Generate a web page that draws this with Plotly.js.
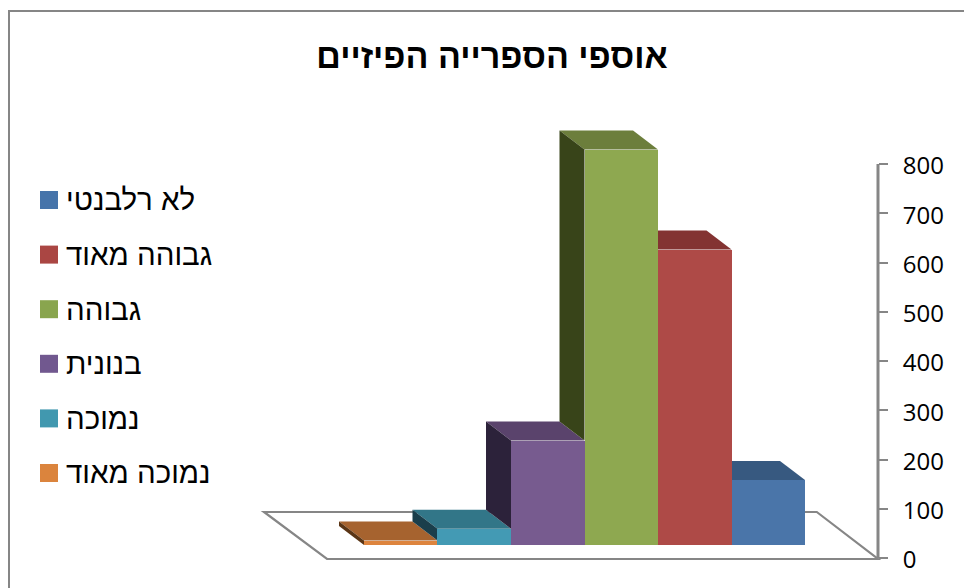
<!DOCTYPE html>
<html><head><meta charset="utf-8">
<script src="https://cdn.plot.ly/plotly-3.0.1.min.js"></script>
<style>html,body{margin:0;padding:0;background:#fff}</style></head>
<body><div id="chart" style="width:964px;height:588px"></div>
<script>
var categories = ['נמוכה מאוד','נמוכה','בנונית','גבוהה','גבוהה מאוד','לא רלבנטי'];
var values = [9, 33, 212, 803, 600, 132];
var frontColors = ['#dd843e','#439ab4','#775b8f','#8ea850','#ae4a47','#4a75a9'];
var topColors = ['#a6632f','#327688','#5a436c','#6c7e3c','#833332','#375980'];
var sideColors = ['#5a3515','#1a3e4b','#2c223a','#384419','#5c2322','#263e5a'];
var legendOrder = ['לא רלבנטי','גבוהה מאוד','גבוהה','בנונית','נמוכה','נמוכה מאוד'];
var legendColors = ['#4674aa','#aa4643','#89a54e','#71588f','#4198af','#db843d'];
var tickValues = [0,100,200,300,400,500,600,700,800];
var chartTitle = 'אוספי הספרייה הפיזיים';

var W = 964, H = 588;
var barBase = 26.4, depthX = -0.34, depthY = 38.6, halfBar = 0.5;
var positions = categories.map(function(_, i){ return i + 1; });
var shapes = [];
function poly(pts, fill){
  shapes.push({type:'path', layer:'below', xref:'x', yref:'y', fillcolor:fill, line:{width:0},
    path:'M'+pts.map(function(p){return p[0]+','+p[1];}).join('L')+'Z'});
}
// outer frame
shapes.push({type:'rect', layer:'below', xref:'paper', yref:'paper', x0:9/W, x1:1.1, y0:-0.1, y1:1-11/H,
  line:{color:'#868686', width:2}, fillcolor:'#ffffff'});
// floor
shapes.push({type:'path', layer:'below', xref:'x', yref:'y', fillcolor:'#ffffff', line:{color:'#868686', width:2.2},
  path:'M-0.86,93.4L6.66,93.4L7.493,-2L-0.003,-2Z'});
// value axis line
shapes.push({type:'line', layer:'below', xref:'paper', yref:'y', x0:878/W, x1:878/W, y0:0, y1:800,
  line:{color:'#868686', width:3}});
// 3D faces derived from the values
values.forEach(function(v, i){
  var xl = positions[i] - halfBar, xr = positions[i] + halfBar;
  var top = v + barBase, prev = i > 0 ? values[i-1] + barBase : barBase;
  poly([[xl,top],[xr,top],[xr+depthX,top+depthY],[xl+depthX,top+depthY]], topColors[i]);
  if (top > prev) poly([[xl,prev],[xl,top],[xl+depthX,top+depthY],[xl+depthX,prev+depthY]], sideColors[i]);
});
// legend
var annotations = [];
legendOrder.forEach(function(t, i){
  var yc = 200 + i * 54.6;
  shapes.push({type:'rect', xref:'paper', yref:'paper', x0:40/W, x1:58/W, y0:1-(yc+9)/H, y1:1-(yc-9)/H,
    fillcolor:legendColors[i], line:{width:0}});
  annotations.push({xref:'paper', yref:'paper', x:64/W, y:1-yc/H, xanchor:'left', yanchor:'middle', showarrow:false,
    text:t, font:{family:'Liberation Sans, DejaVu Sans', size:29.5, color:'#000'}});
});

var trace = {type:'bar', x:positions, y:values, base:values.map(function(){return barBase;}), width:1,
  marker:{color:frontColors, line:{width:0}}, hoverinfo:'y', showlegend:false};

Plotly.newPlot('chart', [trace], {
  width:W, height:H, margin:{l:0,r:0,t:0,b:0,pad:0}, paper_bgcolor:'#fff', plot_bgcolor:'rgba(0,0,0,0)',
  showlegend:false, bargap:0,
  title:{text:chartTitle, x:492/W, xanchor:'center', y:1-56/H, yanchor:'middle',
    font:{family:'Liberation Sans', size:34, color:'#000', weight:'bold'}},
  xaxis:{range:[-4.452,8.663], domain:[0,1], visible:false, fixedrange:true},
  yaxis:{range:[-60.91,1133], domain:[0,1], side:'right', anchor:'free', position:878/W, showgrid:false, zeroline:false,
    showline:false, tickmode:'array', tickvals:tickValues, ticktext:tickValues.map(String), ticks:'outside', ticklen:9,
    tickwidth:2, tickcolor:'#868686', ticklabelstandoff:10, ticklabelshift:2, tickfont:{family:'Open Sans', size:24, color:'#000'}, fixedrange:true},
  shapes:shapes, annotations:annotations
}, {displayModeBar:false, staticPlot:true});
</script></body></html>
